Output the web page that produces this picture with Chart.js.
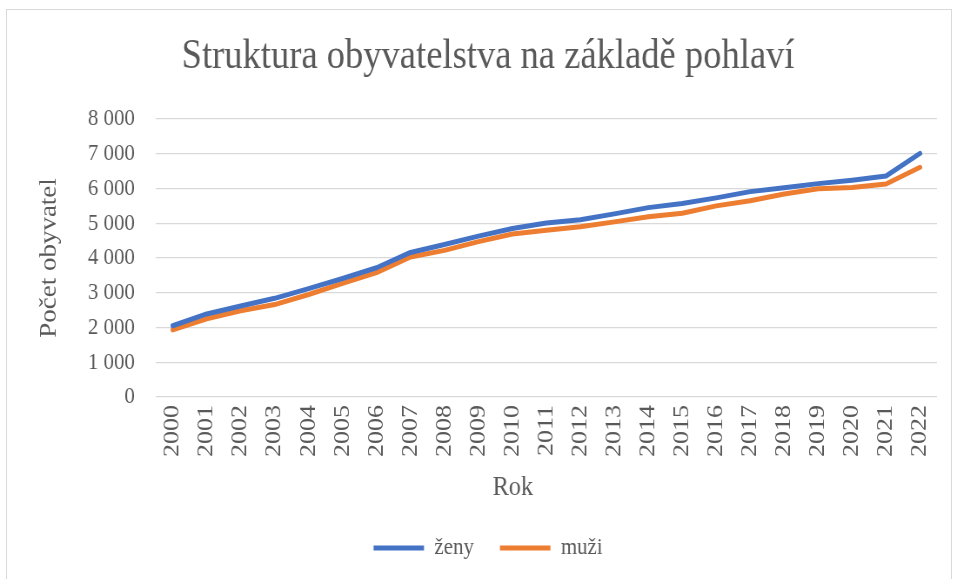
<!DOCTYPE html>
<html>
<head>
<meta charset="utf-8">
<script src="https://cdn.jsdelivr.net/npm/chart.js@4.4.1/dist/chart.umd.min.js"></script>
<style>
  html, body { margin: 0; padding: 0; background: #fff; overflow: hidden; }
  #frame { position: absolute; left: 6px; top: 9px; width: 944px; height: 600px; border: 1px solid #d9d9d9; }
  /* the source chart is drawn narrow (text looks condensed), so render wide and squeeze */
  #wrap { position: absolute; left: 0; top: 0; width: 1100px; height: 579px; transform: scaleX(0.87); transform-origin: 0 0; }
</style>
</head>
<body>
<div id="frame"></div>
<div id="wrap"><canvas id="chart" width="1100" height="579"></canvas></div>
<script>
  // Population by sex, 2000-2022
  var years = ['2000', '2001', '2002', '2003', '2004', '2005', '2006', '2007', '2008', '2009', '2010', '2011',
               '2012', '2013', '2014', '2015', '2016', '2017', '2018', '2019', '2020', '2021', '2022'];
  var zeny = [2050, 2390, 2620, 2840, 3120, 3410, 3720, 4160, 4390, 4630, 4850, 5010,
              5100, 5270, 5450, 5570, 5730, 5910, 6020, 6140, 6240, 6360, 7010];
  var muzi = [1930, 2250, 2480, 2660, 2950, 3270, 3580, 4030, 4220, 4470, 4690, 4800,
              4900, 5040, 5190, 5290, 5500, 5650, 5840, 5990, 6030, 6130, 6610];
  var yMin = 0, yMax = 8000, yStep = 1000;

  var serif = '"Liberation Serif", "Times New Roman", serif';
  var textColor = '#595959';
  var gridColor = '#d9d9d9';

  // "8000" -> "8 000"
  function formatThousands(v) {
    return String(v).replace(/\B(?=(\d{3})+(?!\d))/g, ' ');
  }

  new Chart(document.getElementById('chart').getContext('2d'), {
    type: 'line',
    data: {
      labels: years,
      datasets: [
        { label: 'ženy', data: zeny, borderColor: '#4472c4', backgroundColor: '#4472c4',
          borderWidth: 5, borderCapStyle: 'round', borderJoinStyle: 'round', pointRadius: 0, tension: 0 },
        { label: 'muži', data: muzi, borderColor: '#ed7d31', backgroundColor: '#ed7d31',
          borderWidth: 5, borderCapStyle: 'round', borderJoinStyle: 'round', pointRadius: 0, tension: 0 }
      ]
    },
    options: {
      responsive: false,
      animation: false,
      layout: { padding: { left: 45, right: 23, top: 0, bottom: 9 } },
      scales: {
        x: {
          offset: true,
          grid: { display: false },
          border: { display: false },
          ticks: { color: textColor, font: { family: serif, size: 26 }, minRotation: 90, maxRotation: 90, padding: 0, autoSkip: false },
          // trailing spaces push the title left, under 2010 as in the source
          title: { display: true, text: 'Rok           ', color: textColor, font: { family: serif, size: 28 }, padding: { top: 0, bottom: 1.8 } },
          afterFit: function (scale) { scale.height = 109; }
        },
        y: {
          min: yMin, max: yMax,
          grid: { color: gridColor, lineWidth: 1.3, drawTicks: false },
          border: { display: false },
          ticks: { stepSize: yStep, color: textColor, font: { family: serif, size: 24 }, padding: 24,
                   callback: function (v) { return formatThousands(v); } },
          title: { display: true, text: 'Počet obyvatel', color: textColor, font: { family: serif, size: 27 }, padding: { top: -4, bottom: 0 } },
          afterFit: function (scale) { scale.width = 134; }
        }
      },
      plugins: {
        title: { display: true, text: 'Struktura obyvatelstva na základě pohlaví', color: textColor,
                 font: { family: serif, size: 42, weight: 'normal' }, padding: { top: 31.8, bottom: 36.8 } },
        legend: {
          position: 'bottom',
          labels: { color: textColor, font: { family: serif, size: 24 }, usePointStyle: true, pointStyle: 'line', pointStyleWidth: 58, padding: 30 }
        },
        tooltip: { enabled: false }
      }
    }
  });
</script>
</body>
</html>
